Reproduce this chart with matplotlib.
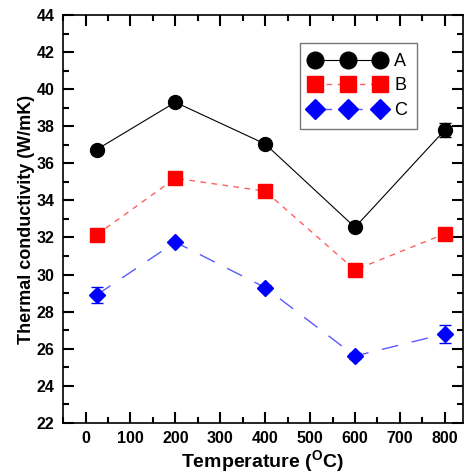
import matplotlib
matplotlib.use("Agg")
import matplotlib.pyplot as plt
from matplotlib.lines import Line2D
from matplotlib.ticker import MultipleLocator

plt.rcParams['font.family'] = ['Liberation Sans', 'DejaVu Sans']
plt.rcParams['mathtext.fontset'] = 'custom'
plt.rcParams['mathtext.rm'] = 'Liberation Sans:bold'
plt.rcParams['mathtext.bf'] = 'Liberation Sans:bold'

# temperatures (C) and conductivity for the three samples
temps = [25, 200, 400, 600, 800]
a_vals = [36.75, 39.3, 37.05, 32.55, 37.8]
b_vals = [32.15, 35.2, 34.5, 30.25, 32.2]
c_vals = [28.9, 31.75, 29.3, 25.6, 26.8]
a_err = [0.1, 0.1, 0.1, 0.1, 0.4]
b_err = [0.1, 0.1, 0.1, 0.1, 0.1]
c_err = [0.45, 0.1, 0.15, 0.15, 0.48]
names = ['A', 'B', 'C']

styles = [
    dict(color='black', lw=0.8, ls='-', marker='o', ms=10, mfc='black', mec='black'),
    dict(color='#ff6060', lw=1.0, ls=(0, (4, 4)), marker='s', ms=10, mfc='red', mec='red'),
    dict(color='#5a5aff', lw=1.0, ls=(0, (12, 10)), marker='D', ms=8.5, mfc='blue', mec='blue'),
]
err_colors = ['black', 'red', 'blue']

fig = plt.figure(figsize=(4.67, 4.75), dpi=100)
ax = fig.add_axes([0.135, 0.11, 0.856, 0.858])

handles = []
for vals, errs, st, ec, name in zip([a_vals, b_vals, c_vals], [a_err, b_err, c_err],
                                     styles, err_colors, names):
    ax.errorbar(temps, vals, yerr=errs, ecolor=ec, elinewidth=0.8, capsize=4, **st)
    hs = dict(st)
    hs['ms'] = st['ms'] * 1.2
    handles.append(Line2D([], [], label=name, **hs))

ax.set_xlim(-50, 840)
ax.set_ylim(22, 44)
ax.xaxis.set_major_locator(MultipleLocator(100))
ax.xaxis.set_minor_locator(MultipleLocator(50))
ax.yaxis.set_major_locator(MultipleLocator(2))
ax.yaxis.set_minor_locator(MultipleLocator(1))
ax.tick_params(which='both', direction='in', top=True, right=True, width=1.5,
               labelsize=11.5)
ax.tick_params(which='major', length=8, pad=6)
ax.tick_params(which='minor', length=4)
for lab in ax.get_xticklabels() + ax.get_yticklabels():
    lab.set_fontweight('bold')
for sp in ax.spines.values():
    sp.set_linewidth(1.2)

ax.set_xlabel(r'Temperature ($^{\mathbf{O}}$C)', fontsize=14, fontweight='bold',
              labelpad=2)
ax.set_ylabel('Thermal conductivity (W/mK)', fontsize=13, fontweight='bold',
              labelpad=1)

leg = ax.legend(handles=handles, loc='upper right', bbox_to_anchor=(0.885, 0.932),
                borderaxespad=0, numpoints=3, fontsize=13, frameon=True,
                fancybox=False, handlelength=4.2, handletextpad=0.45,
                labelspacing=0.42, borderpad=0.55)
leg.get_frame().set_edgecolor('#555555')
leg.get_frame().set_linewidth(1.0)

fig.savefig('out.png', dpi=100)
